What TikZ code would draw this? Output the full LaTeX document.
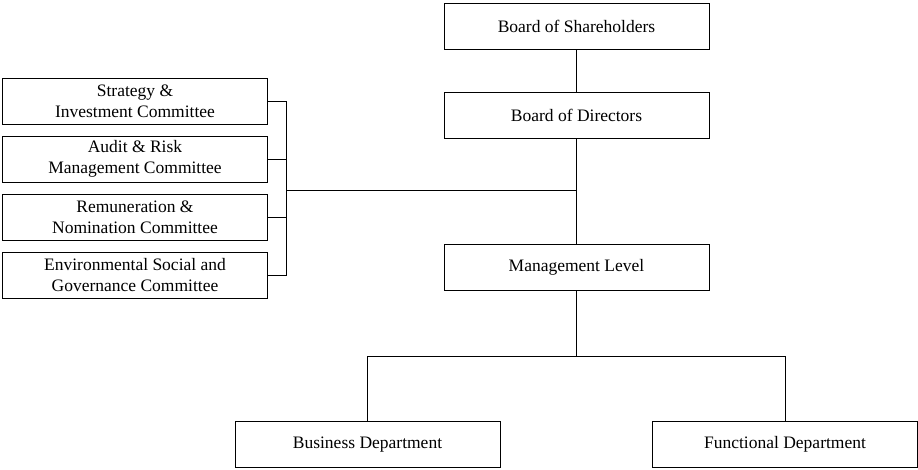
\documentclass[tikz,border=0pt]{standalone}
\usepackage{fontspec}
\setmainfont{Liberation Serif}
\begin{document}
\begin{tikzpicture}[x=1pt,y=-1pt,
    orgbox/.style={draw, line width=0.9pt, minimum width=265pt, minimum height=46pt,
      inner sep=0pt, align=center, font=\fontsize{17.5}{21}\selectfont},
    link/.style={line width=0.9pt}]
        \useasboundingbox (0,0) rectangle (918,469);
        % main column
        \node[orgbox] (share) at (576.5,26) {Board of Shareholders};
        \node[orgbox] (dir) at (576.5,115) {Board of Directors};
        \node[orgbox] (mgmt) at (576.5,267) {Management Level};
        \node[orgbox] (busi) at (367.5,444.5) {Business Department};
        \node[orgbox] (func) at (785,444.5) {Functional Department};
        % committees
        \node[orgbox] (strat) at (135,101) {Strategy \&\\Investment Committee};
        \node[orgbox] (audit) at (135,159) {Audit \& Risk\\Management Committee};
        \node[orgbox] (remun) at (135,217.5) {Remuneration \&\\Nomination Committee};
        \node[orgbox] (esg) at (135,275.5) {Environmental Social and\\Governance Committee};

        \coordinate (join) at (576.5,190);
        \coordinate (brk) at (286,190);
        \coordinate (fork) at (576.5,356);

        \draw[link] (share) -- (dir);
        \draw[link] (dir) -- (mgmt);
        \draw[link] (join) -- (brk);
        \draw[link] (strat.east) -- (286,101) -- (286,275.5) -- (esg.east);
        \foreach \c in {audit,remun}{
          \draw[link] (\c.east) -- (\c.east -| brk);
        }
        \draw[link] (mgmt) -- (fork);
        \draw[link] (busi) -- (busi |- fork) -- (func |- fork) -- (func);

      \end{tikzpicture}
\end{document}
